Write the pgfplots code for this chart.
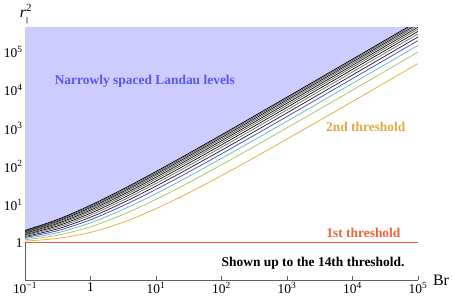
\documentclass[border=0pt]{standalone}
\usepackage{fontspec}
\setmainfont{Liberation Serif}
\usepackage{pgfplots}
\usepackage{pgfplotstable}
\pgfplotsset{compat=1.18}
\definecolor{fillc}{RGB}{204,204,255}
\definecolor{txtblue}{RGB}{88,88,238}
\definecolor{c1}{RGB}{234,92,58}
\definecolor{c2}{RGB}{230,174,64}
\definecolor{c3}{RGB}{168,196,106}
\definecolor{c4}{RGB}{104,186,172}
\definecolor{c5}{RGB}{80,66,210}
\definecolor{t2}{RGB}{224,170,70}
\definecolor{t1}{RGB}{234,100,62}
\pgfplotstableread{
B a1 a2 a3 a4 a5 a6 a7 a8 a9 a10 a11 a12 a13
0.1 1.0977 1.1916 1.2825 1.3708 1.4571 1.5416 1.6246 1.7062 1.7866 1.866 1.9444 2.0220 2.0987
0.31623 1.297 1.569 1.8254 2.0719 2.3106 2.5436 2.7716 2.9957 3.2165 3.4344 3.6497 3.8628 4.0739
1 1.866 2.618 3.3229 4 4.6583 5.3028 5.9365 6.5616 7.1794 7.7913 8.3979 9 9.598
3.1623 3.434 5.510 7.478 9.389 11.261 13.107 14.932 16.740 18.536 20.319 22.093 23.858 25.616
10 7.791 13.70 19.405 25 30.525 36 41.437 46.844 52.227 57.589 62.933 68.262 73.578
31.623 20.32 37.77 54.84 71.71 88.46 105.12 121.71 138.25 154.74 171.2 187.62 204.02 220.39
100 57.59 110.5 162.76 214.65 266.3 317.83 369.2 420.5 471.7 522.87 573.96 625 676
316.23 171.2 334.5 496.6 658.1 819.1 979.98 1140.6 1301 1461.3 1621.4 1781.5 1941.4 2101.3
1000 522.9 1032.1 1539.2 2045.2 2550.5 3055.3 3559.7 4063.7 4567.6 5071.2 5574.7 6078 6581.1
3162.3 1621.5 3218.8 4812.9 6404.5 7995 9584.7 11173.7 12762 14350 15937.7 17524.9 19112 20698.6
10000 5071 10100 15123 20142 25159 30174 35187.6 40200.5 45212.6 50224 55235 60245 65255
31623 15938 31802 47653 63498 79339 95177 111013 126847 142680 158512 174343 190173 206002
100000 50224 100318 150388 200448 250500 300548 350592 400633 450671 500708 550742 600775 650807
}\thr
\begin{document}
\begin{tikzpicture}
\useasboundingbox (0,0) rectangle (452bp,303bp);
\begin{axis}[
  at={(25bp,23bp)}, anchor=south west,
  width=393bp, height=252bp, scale only axis,
  xmode=log, ymode=log,
  xmin=0.1, xmax=1e5, ymin=0.105, ymax=4.3e5,
  axis x line*=bottom, axis y line*=left,
  axis line style={-, draw=gray!75!black, line width=0.6pt},
  tick align=inside, major tick length=4bp,
  tick style={gray!75!black, line width=0.5pt},
  minor tick style={draw=none},
  xtick={0.1,1,10,100,1000,10000,100000},
  xticklabels={10\textsuperscript{−1},1,10\textsuperscript{1},10\textsuperscript{2},10\textsuperscript{3},10\textsuperscript{4},10\textsuperscript{5}},
  ytick={1,10,100,1000,10000,100000},
  yticklabels={1,10\textsuperscript{1},10\textsuperscript{2},10\textsuperscript{3},10\textsuperscript{4},10\textsuperscript{5}},
  tick label style={font=\fontsize{13.5}{13.5}\selectfont},
  xticklabel style={yshift=1bp},
  yticklabel style={xshift=1bp},
  every axis plot/.append style={line width=0.75pt},
]
\addplot[fill=fillc, draw=none] coordinates {(0.1,1e7) (1e5,1e7)} \closedcycle;
\addplot[fill=white, draw=none, smooth] table[x=B,y=a13] {\thr} \closedcycle;
\addplot[c1] coordinates {(0.1,1) (1e5,1)};
\addplot[c2, smooth] table[x=B,y=a1] {\thr};
\addplot[c3, smooth] table[x=B,y=a2] {\thr};
\addplot[c4, smooth] table[x=B,y=a3] {\thr};
\addplot[c5, smooth] table[x=B,y=a4] {\thr};
\addplot[black!85, smooth] table[x=B,y=a5] {\thr};
\addplot[black!55, smooth] table[x=B,y=a6] {\thr};
\addplot[black!90, smooth] table[x=B,y=a7] {\thr};
\addplot[black!60, smooth] table[x=B,y=a8] {\thr};
\addplot[black!90, smooth] table[x=B,y=a9] {\thr};
\addplot[black!60, smooth] table[x=B,y=a10] {\thr};
\addplot[black!90, smooth] table[x=B,y=a11] {\thr};
\addplot[black!65, smooth] table[x=B,y=a12] {\thr};
\addplot[black, smooth] table[x=B,y=a13] {\thr};
\node[txtblue, font=\bfseries\fontsize{13.5}{13.5}\selectfont] at (rel axis cs:0.305,0.79) {Narrowly spaced Landau levels};
\node[t2, font=\bfseries\fontsize{13.5}{13.5}\selectfont] at (rel axis cs:0.867,0.607) {2nd threshold};
\node[t1, font=\bfseries\fontsize{13.5}{13.5}\selectfont] at (rel axis cs:0.861,0.187) {1st threshold};
\node[black, font=\bfseries\fontsize{13.5}{13.5}\selectfont] at (rel axis cs:0.733,0.067) {Shown up to the 14th threshold.};
\end{axis}
\node[font=\fontsize{16}{16}\selectfont] at (441bp,23bp) {Br};
\node[font=\fontsize{16}{16}\selectfont, inner sep=0pt] at (26bp,289bp) {\textit{r}$^{\hbox{\fontsize{11}{11}\selectfont 2}}_{\hbox{\fontsize{7}{7}\selectfont |\kern-0.3bp|}}$};
\end{tikzpicture}
\end{document}
